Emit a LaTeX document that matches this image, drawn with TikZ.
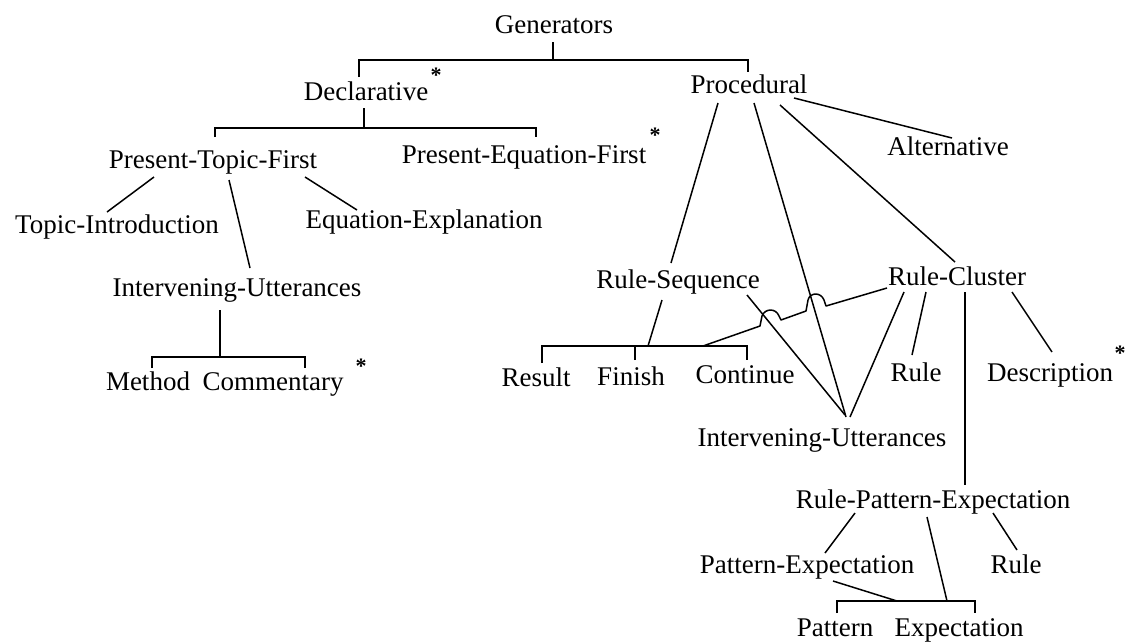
\documentclass[tikz,border=0pt]{standalone}
\usepackage{fontspec}
\setmainfont{Liberation Serif}
\usetikzlibrary{calc}
\begin{document}
\begin{tikzpicture}[x=1pt,y=-1pt,
  lbl/.style={inner sep=0pt, font=\fontsize{27}{30}\selectfont, text height=18pt, text depth=6pt},
  note/.style={inner sep=0pt, anchor=north, font=\fontsize{22}{24}\selectfont\bfseries},
  conn/.style={line width=1.5pt},
  brk/.style={line width=2.2pt}]
\useasboundingbox (0,0) rectangle (1129,641);

% labels
\node[lbl] (gen)   at (554,27)  {Generators};
\node[lbl] (decl)  at (366,94)  {Declarative};
\node[lbl] (proc)  at (749,87)  {Procedural};
\node[lbl] (ptf)   at (213,162) {Present-Topic-First};
\node[lbl] (pef)   at (524,157) {Present-Equation-First};
\node[lbl] (ti)    at (117,227) {Topic-Introduction};
\node[lbl] (ee)    at (424,222) {Equation-Explanation};
\node[lbl] (iul)   at (237,290) {Intervening-Utterances};
\node[lbl] (meth)  at (148,384) {Method};
\node[lbl] (comm)  at (273,384) {Commentary};
\node[lbl] (alt)   at (948,149) {Alternative};
\node[lbl] (rs)    at (678,282) {Rule-Sequence};
\node[lbl] (rc)    at (957,279) {Rule-Cluster};
\node[lbl] (res)   at (536,380) {Result};
\node[lbl] (fin)   at (631,379) {Finish};
\node[lbl] (cont)  at (745,377) {Continue};
\node[lbl] (ruleA) at (916,375) {Rule};
\node[lbl] (desc)  at (1050,375) {Description};
\node[lbl] (iur)   at (822,440) {Intervening-Utterances};
\node[lbl] (rpe)   at (933,502) {Rule-Pattern-Expectation};
\node[lbl] (pe)    at (807,567) {Pattern-Expectation};
\node[lbl] (ruleB) at (1016,567) {Rule};
\node[lbl] (pat)   at (835,630) {Pattern};
\node[lbl] (expc)  at (959,630) {Expectation};

% asterisks
\node[note] (declstar) at (436,68)  {*};
\node[note] (pefstar)  at (655,128) {*};
\node[note] (commstar) at (361,359) {*};
\node[note] (descstar) at (1120,346) {*};

% Generators bracket
\draw[conn] ($(gen)+(-1,15)$) -- ($(gen)+(-1,33)$);
\draw[brk] ($(decl)+(-7,-17)$) |- ($(proc)+(-1,-27)$) -- ($(proc)+(-1,-15)$);

% Declarative bracket
\draw[conn] ($(decl)+(-2,14)$) -- ($(decl)+(-2,34)$);
\draw[brk] ($(ptf)+(2,-25)$) |- ($(pef)+(12,-29)$) -- ($(pef)+(12,-20)$);

% Present-Topic-First
\draw[conn] ($(ptf)+(-59,15)$) -- ($(ti)+(-10,-15)$);
\draw[conn] ($(ptf)+(16,18)$) -- ($(iul)+(13,-22)$);
\draw[conn] ($(ptf)+(92,15)$) -- ($(ee)+(-67,-12)$);

% Intervening-Utterances bracket
\draw[conn] ($(iul)+(-17,20)$) -- ($(iul)+(-17,67)$);
\draw[brk] ($(meth)+(4,-16)$) |- ($(comm)+(32,-27)$) -- ($(comm)+(32,-16)$);

% Procedural
\draw[conn] ($(proc)+(-31,16)$) -- ($(rs)+(-7,-19)$);
\draw[conn] ($(proc)+(5,16)$) -- ($(iur)+(24,-23)$);
\draw[conn] ($(proc)+(31,18)$) -- ($(rc)+(-2,-17)$);
\draw[conn] ($(proc)+(45,11)$) -- ($(alt)+(4,-11)$);

% Rule-Sequence
\draw[conn] ($(rs)+(-16,18)$) -- ($(fin)+(17,-33)$);
\draw[brk] ($(res)+(6,-17)$) |- ($(cont)+(2,-31)$) -- ($(cont)+(2,-17)$);
\draw[conn] ($(fin)+(4,-19)$) -- ($(fin)+(4,-33)$);
\draw[conn] ($(rs)+(69,13)$) -- ($(iur)+(23,-25)$);

% Rule-Cluster
\draw[conn] ($(rc)+(-53,13)$) -- ($(iur)+(28,-23)$);
\draw[conn] ($(rc)+(-31,13)$) -- ($(ruleA)+(-4,-20)$);
\draw[conn] ($(rc)+(8,13)$) -- ($(rpe)+(32,-17)$);
\draw[conn] ($(rc)+(55,13)$) -- ($(desc)+(2,-23)$);

% Rule-Cluster to the sequence bar, hopping over two lines
\draw[conn, line join=round] ($(rc)+(-70,9)$) -- (826,306) -- (824,300)
  .. controls (821,292) and (810,292) .. (808,300) -- (806,311) -- (781,320)
  -- (779,316) .. controls (776,308) and (765,308) .. (762,316) -- (760,326)
  -- ($(cont)+(-42,-31)$);

% Rule-Pattern-Expectation
\draw[conn] ($(rpe)+(-78,11)$) -- ($(pe)+(18,-14)$);
\draw[conn] ($(rpe)+(-6,15)$) -- ($(expc)+(-12,-29)$);
\draw[conn] ($(rpe)+(60,11)$) -- ($(ruleB)+(1,-17)$);
\draw[conn] ($(pe)+(26,14)$) -- ($(pat)+(62,-29)$);
\draw[brk] ($(pat)+(2,-17)$) |- ($(expc)+(16,-29)$) -- ($(expc)+(16,-17)$);
\end{tikzpicture}
\end{document}
